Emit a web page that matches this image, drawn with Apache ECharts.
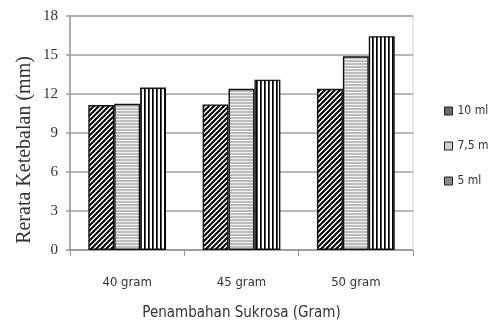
<!DOCTYPE html>
<html><head><meta charset="utf-8">
<script src="https://cdn.jsdelivr.net/npm/echarts@6/dist/echarts.min.js"></script>
<style>html,body{margin:0;padding:0;background:#fff}#c{width:489px;height:322px}</style>
</head><body><div id="c"></div>
<script>
var categories = ['40 gram', '45 gram', '50 gram'];
var seriesNames = ['10 ml', '7,5 ml', '5 ml'];
var values10 = [11.15, 11.2, 12.4];
var values75 = [11.25, 12.4, 14.9];
var values5 = [12.5, 13.1, 16.45];
var yTicks = [0, 3, 6, 9, 12, 15, 18];
var yTitle = 'Rerata Ketebalan (mm)';
var xTitle = 'Penambahan Sukrosa (Gram)';

function tile(w, h, draw) {
  var c = document.createElement('canvas');
  c.width = w; c.height = h;
  var g = c.getContext('2d');
  g.fillStyle = '#fff'; g.fillRect(0, 0, w, h);
  draw(g);
  return { image: c, repeat: 'repeat' };
}
var diag = tile(5, 5, function (g) {
  g.strokeStyle = '#000'; g.lineWidth = 2;
  g.beginPath();
  g.moveTo(-1, 6); g.lineTo(6, -1);
  g.moveTo(-3, 3); g.lineTo(3, -3);
  g.moveTo(2, 8); g.lineTo(8, 2);
  g.stroke();
});
var horiz = tile(4, 3, function (g) {
  g.fillStyle = '#bdbdbd'; g.fillRect(0, 0, 4, 2);
  g.fillStyle = '#f0f0f0'; g.fillRect(0, 2, 4, 1);
});
var vert = tile(4, 4, function (g) {
  g.fillStyle = '#000'; g.fillRect(0, 0, 1, 4);
  g.fillStyle = '#444'; g.fillRect(1, 0, 1, 4);
});

var narrow = 'Liberation Sans Narrow, DejaVu Sans Condensed, Liberation Sans, sans-serif';
var chart = echarts.init(document.getElementById('c'));
var barStyle = function (fill) { return { color: fill, borderColor: '#111', borderWidth: 1.4 }; };
chart.setOption({
  animation: false,
  backgroundColor: '#fff',
  grid: { left: 70, right: 76, top: 16, bottom: 72, show: true, borderColor: '#cfcfcf', borderWidth: 1, containLabel: false, outerBoundsMode: 'none' },
  graphic: [{
    type: 'text', x: 25, y: 150, rotation: Math.PI / 2,
    style: { text: yTitle, fontFamily: 'Liberation Serif, serif', fontSize: 20, fill: '#333', align: 'center', verticalAlign: 'middle' }
  }],
  legend: {
    orient: 'vertical', left: 439, top: 100, itemGap: 23,
    itemWidth: 8, itemHeight: 8, icon: 'rect',
    textStyle: { fontFamily: narrow, fontSize: 12, color: '#333' },
    data: [
      { name: seriesNames[0], itemStyle: { color: '#6a6a6a', borderColor: '#222', borderWidth: 1 } },
      { name: seriesNames[1], itemStyle: { color: '#cfcfcf', borderColor: '#222', borderWidth: 1 } },
      { name: seriesNames[2], itemStyle: { color: '#8a8a8a', borderColor: '#222', borderWidth: 1 } }
    ]
  },
  xAxis: {
    type: 'category', data: categories,
    name: xTitle, nameLocation: 'middle', nameGap: 56,
    nameTextStyle: { fontFamily: narrow, fontSize: 15, color: '#333' },
    axisLine: { lineStyle: { color: '#999', width: 1.5 } },
    axisTick: { show: true, length: 6, lineStyle: { color: '#999' } },
    axisLabel: { margin: 26, fontFamily: narrow, fontSize: 13, color: '#333' }
  },
  yAxis: {
    type: 'value', min: yTicks[0], max: yTicks[yTicks.length - 1], interval: 3,
    axisLine: { show: true, lineStyle: { color: '#999', width: 1.5 } },
    axisTick: { show: true, length: 4, lineStyle: { color: '#999', width: 1.5 } },
    axisLabel: { margin: 12, fontFamily: 'Liberation Serif, serif', fontSize: 15, color: '#333' },
    splitLine: { lineStyle: { color: '#a0a0a0', width: 1.5 } }
  },
  series: [
    { name: seriesNames[0], type: 'bar', data: values10, itemStyle: barStyle(diag), barGap: '0%', barCategoryGap: '32%' },
    { name: seriesNames[1], type: 'bar', data: values75, itemStyle: barStyle(horiz), barGap: '0%', barCategoryGap: '32%' },
    { name: seriesNames[2], type: 'bar', data: values5, itemStyle: barStyle(vert), barGap: '0%', barCategoryGap: '32%' }
  ]
});
</script></body></html>
